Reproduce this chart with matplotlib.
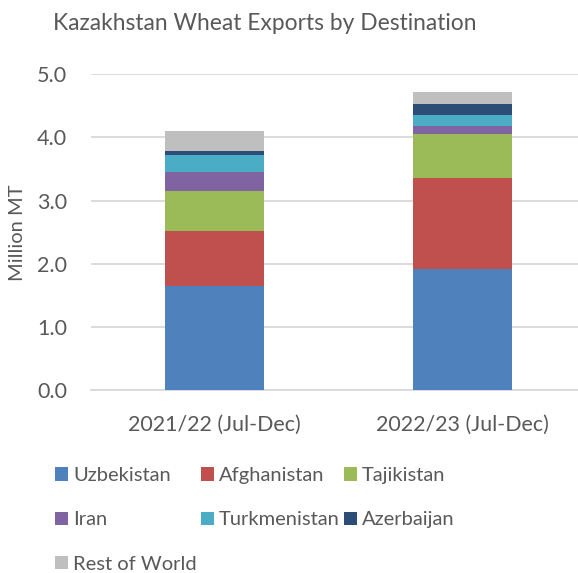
import matplotlib.pyplot as plt
import numpy as np

plt.rcParams['font.family'] = ['Lato', 'DejaVu Sans']

# dane (mln ton)
seasons = ['2021/22 (Jul-Dec)', '2022/23 (Jul-Dec)']
countries = ['Uzbekistan', 'Afghanistan', 'Tajikistan', 'Iran',
             'Turkmenistan', 'Azerbaijan', 'Rest of World']
uzbekistan = [1.65, 1.91]
afghanistan = [0.87, 1.45]
tajikistan = [0.63, 0.69]
iran = [0.31, 0.13]
turkmenistan = [0.26, 0.18]
azerbaijan = [0.07, 0.17]
rest_of_world = [0.31, 0.19]

series = [uzbekistan, afghanistan, tajikistan, iran,
          turkmenistan, azerbaijan, rest_of_world]
colors = ['#4F81BD', '#C0504D', '#9BBB59', '#8064A2',
          '#4BACC6', '#2C4D75', '#BFBFBF']
txt = '#595959'

fig = plt.figure(figsize=(5.78, 5.73), dpi=100)
ax = fig.add_axes([90.5 / 578, 1 - 390 / 573, 496 / 578, (390 - 74.3) / 573])

x = np.arange(len(seasons))
bottom = np.zeros(len(seasons))
handles = []
for vals, c, name in zip(series, colors, countries):
    h = ax.bar(x, vals, width=0.4, bottom=bottom, color=c, label=name, zorder=3)
    handles.append(h)
    bottom += np.array(vals)

ax.set_xlim(-0.5, 1.5)
ax.set_ylim(0, 5)
ax.set_yticks(np.arange(0, 5.1, 1.0))
ax.set_yticklabels([f'{v:.1f}' for v in np.arange(0, 5.1, 1.0)])
ax.set_xticks(x)
ax.set_xticklabels(seasons)
ax.tick_params(axis='y', length=0, labelsize=15.5, colors=txt, pad=17)
ax.tick_params(axis='x', length=0, labelsize=15.4, colors=txt, pad=18)
ax.grid(axis='y', color='#D9D9D9', linewidth=1.3, zorder=0)
for s in ['top', 'right', 'left']:
    ax.spines[s].set_visible(False)
ax.spines['bottom'].set_color('#D9D9D9')
ax.spines['bottom'].set_linewidth(1.3)

fig.text(17.5 / 578, 1 - 233 / 573, 'Million MT', rotation=90, ha='center',
         va='center', fontsize=14.5, color=txt)
fig.text(265 / 578, 1 - 24 / 573, 'Kazakhstan Wheat Exports by Destination',
         ha='center', va='center', fontsize=16.4, color=txt)

# legenda wypelniana wierszami
order = [0, 3, 6, 1, 4, 2, 5]
leg = fig.legend([handles[i] for i in order], [countries[i] for i in order],
                 ncol=3, loc='upper left', bbox_to_anchor=(55 / 578, 1 - 467 / 573),
                 frameon=False, fontsize=14.5, handlelength=0.65, handleheight=0.65,
                 handletextpad=0.25, columnspacing=0.2, labelspacing=1.36,
                 borderpad=0, borderaxespad=0)
for t in leg.get_texts():
    t.set_color(txt)

fig.savefig('out.png', dpi=100)
